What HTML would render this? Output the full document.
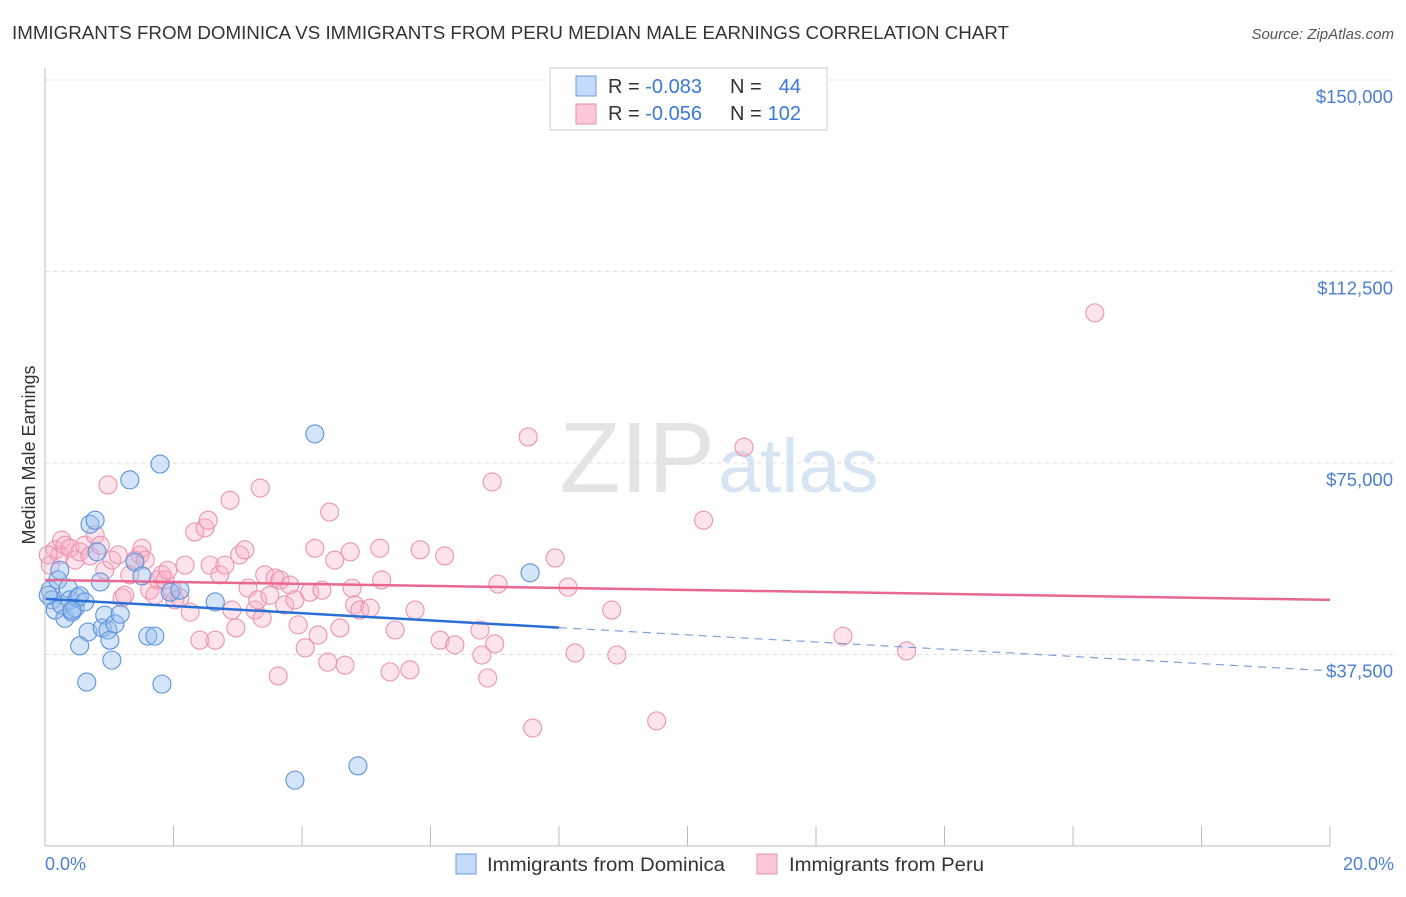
<!DOCTYPE html>
<html><head><meta charset="utf-8"><style>
body{margin:0;background:#fff;font-family:"Liberation Sans",sans-serif;}
svg text{font-family:"Liberation Sans",sans-serif;}
</style></head><body>
<svg id="c" width="1406" height="892">
<text x="12" y="39" font-size="18" fill="#333" textLength="997" lengthAdjust="spacingAndGlyphs">IMMIGRANTS FROM DOMINICA VS IMMIGRANTS FROM PERU MEDIAN MALE EARNINGS CORRELATION CHART</text>
<text x="1394" y="39" font-size="15" fill="#555" font-style="italic" text-anchor="end">Source: ZipAtlas.com</text>
<text x="35" y="455" font-size="18" fill="#333" transform="rotate(-90 35 455)" text-anchor="middle">Median Male Earnings</text>
<text x="715" y="492" font-size="100" fill="#e4e4e4" text-anchor="end" font-family="Liberation Serif">ZIP</text>
<text x="718" y="492" font-size="76" fill="#d6e4f4">atlas</text>
<g id="grid"></g><g id="pts"></g><g id="trend"></g>
<line x1="45" y1="68" x2="45" y2="846" stroke="#bbb"/>
<line x1="45" y1="846" x2="1330" y2="846" stroke="#bbb"/>
<text x="45" y="870" font-size="18" fill="#4a7fd4">0.0%</text>
<text x="1394" y="870" font-size="18" fill="#4a7fd4" text-anchor="end">20.0%</text>
<g>
<rect x="550" y="68" width="277" height="62" fill="#fff" stroke="#ccc"/>
<rect x="576" y="76" width="20" height="20" fill="#c4dafa" stroke="#6b9be0"/>
<rect x="576" y="104" width="20" height="20" fill="#fcc8d8" stroke="#ea8fae"/>
<text x="608" y="93" font-size="20" fill="#333">R = <tspan fill="#3b78d8">-0.083</tspan></text>
<text x="730" y="93" font-size="20" fill="#333">N = </text><text x="801" y="93" font-size="20" fill="#3b78d8" text-anchor="end">44</text>
<text x="608" y="120" font-size="20" fill="#333">R = <tspan fill="#3b78d8">-0.056</tspan></text>
<text x="730" y="120" font-size="20" fill="#333">N = </text><text x="801" y="120" font-size="20" fill="#3b78d8" text-anchor="end">102</text>
</g>
<g>
<rect x="456" y="854" width="20" height="20" fill="#c4dafa" stroke="#6b9be0"/>
<text x="487" y="871" font-size="19" fill="#333" textLength="238" lengthAdjust="spacingAndGlyphs">Immigrants from Dominica</text>
<rect x="757" y="854" width="20" height="20" fill="#fcc8d8" stroke="#ea8fae"/>
<text x="789" y="871" font-size="19" fill="#333" textLength="195" lengthAdjust="spacingAndGlyphs">Immigrants from Peru</text>
</g>
</svg>
<script>
const yTicks=[37500,75000,112500,150000];
const yTickLabels=["$37,500","$75,000","$112,500","$150,000"];
const blueX=[0.08,0.11,0.16,0.20,0.26,0.31,0.36,0.39,0.42,0.47,0.51,0.54,0.62,0.67,0.70,0.78,0.81,0.86,0.89,0.93,0.98,1.01,1.04,1.09,1.17,0.54,0.65,1.32,1.40,1.51,1.60,1.71,1.79,1.82,1.95,2.10,2.65,3.89,4.20,4.87,7.55,0.23,0.05,0.42];
const blueY=[50.1,48.2,46.2,52.1,47.2,44.6,50.5,48.2,45.8,46.6,48.6,49.0,47.8,41.9,63.0,63.8,57.6,51.7,42.7,45.2,42.3,40.3,36.4,43.5,45.4,39.2,32.1,71.7,55.6,52.9,41.1,41.1,74.8,31.7,49.7,50.1,47.8,12.9,80.7,15.7,53.5,54.0,49.1,46.2];
const pinkX=[0.08,0.16,0.23,0.26,0.31,0.39,0.47,0.54,0.62,0.70,0.78,0.86,0.93,0.98,1.04,1.14,1.20,1.24,1.32,1.40,1.48,1.51,1.56,1.63,1.71,1.76,1.82,1.87,1.91,1.98,2.02,2.10,2.18,2.26,2.33,2.41,2.49,2.54,2.57,2.65,2.72,2.80,2.88,2.91,2.97,3.03,3.11,3.16,3.27,3.31,3.35,3.38,3.42,3.50,3.58,3.63,3.66,3.73,3.81,3.89,3.94,4.05,4.12,4.20,4.25,4.31,4.40,4.43,4.51,4.59,4.67,4.75,4.78,4.82,4.90,5.06,5.21,5.24,5.37,5.45,5.68,5.76,5.84,6.15,6.22,6.38,6.77,6.80,6.89,6.96,7.00,7.05,7.52,7.59,7.94,8.14,8.25,8.82,8.90,9.52,10.25,10.88,12.42,13.41,16.34,0.05];
const pinkY=[55.0,58.0,57.0,59.9,58.9,58.3,56.0,57.6,58.9,56.8,60.9,58.9,54.0,70.7,56.0,57.0,48.6,49.1,53.1,56.0,57.0,58.3,56.0,50.1,49.1,52.1,53.1,52.1,54.0,50.1,48.2,48.6,55.0,45.8,61.5,40.3,62.3,63.8,55.0,40.3,53.1,55.0,67.7,46.2,42.7,57.0,58.0,50.5,46.2,48.2,70.1,44.6,53.1,49.1,52.5,33.3,52.1,47.2,51.1,48.2,43.3,38.8,49.7,58.3,41.3,50.1,36.0,65.4,56.0,42.7,35.4,57.6,50.5,47.2,46.2,46.6,58.3,52.1,34.1,42.3,34.5,46.2,58.0,40.3,56.8,39.4,42.3,37.4,32.9,71.3,39.6,51.3,80.1,23.1,56.4,50.7,37.8,46.2,37.4,24.5,63.8,78.1,41.1,38.2,104.4,57.0];
const blueTrend=[48.4,34.3];
const pinkTrend=[52.1,48.2];
const xs=v=>45+v/20*1285;
const ys=v=>846-v/150*766;
const NS="http://www.w3.org/2000/svg";
function mk(t,a){const e=document.createElementNS(NS,t);for(const k in a)e.setAttribute(k,a[k]);return e;}
const grid=document.getElementById('grid');
yTicks.forEach((t,i)=>{
 const l=mk('line',{x1:45,x2:1394,y1:ys(t/1000),y2:ys(t/1000),stroke:'#ddd','stroke-dasharray':'4,4'});
 
 
 grid.appendChild(l);
 const tx=mk('text',{x:1393,y:ys(t/1000)+23,'font-size':18.5,fill:'#4a7fd4','text-anchor':'end'});
 tx.textContent=yTickLabels[i];
 
 
 grid.appendChild(tx);
});
for(let i=1;i<=10;i++){
 const x=xs(i*2);
 const l=mk('line',{x1:x,x2:x,y1:826,y2:846,stroke:'#bbb'});
 
 
 grid.appendChild(l);
}
const pts=document.getElementById('pts');
pinkX.forEach((x,i)=>{
 const c=mk('circle',{cx:xs(x),cy:ys(pinkY[i]),r:9,fill:'rgba(248,175,198,0.35)',stroke:'#eb93b1','stroke-width':1.1});
 
 
 pts.appendChild(c);
});
blueX.forEach((x,i)=>{
 const c=mk('circle',{cx:xs(x),cy:ys(blueY[i]),r:9,fill:'rgba(150,190,240,0.4)',stroke:'#5d92dc','stroke-width':1.1});
 
 
 pts.appendChild(c);
});
const tr=document.getElementById('trend');
const by=x=>blueTrend[0]+(blueTrend[1]-blueTrend[0])*x/20;
let l=mk('line',{x1:xs(0),y1:ys(by(0)),x2:xs(8),y2:ys(by(8)),stroke:'#2a6fd6','stroke-width':2.5});


tr.appendChild(l);
l=mk('line',{x1:xs(8),y1:ys(by(8)),x2:xs(20),y2:ys(by(20)),stroke:'#7aa3de','stroke-width':1.2,'stroke-dasharray':'8,6'});


tr.appendChild(l);
l=mk('line',{x1:xs(0),y1:ys(pinkTrend[0]),x2:xs(20),y2:ys(pinkTrend[1]),stroke:'#e8688f','stroke-width':2.5});


tr.appendChild(l);
</script>
</body></html>
